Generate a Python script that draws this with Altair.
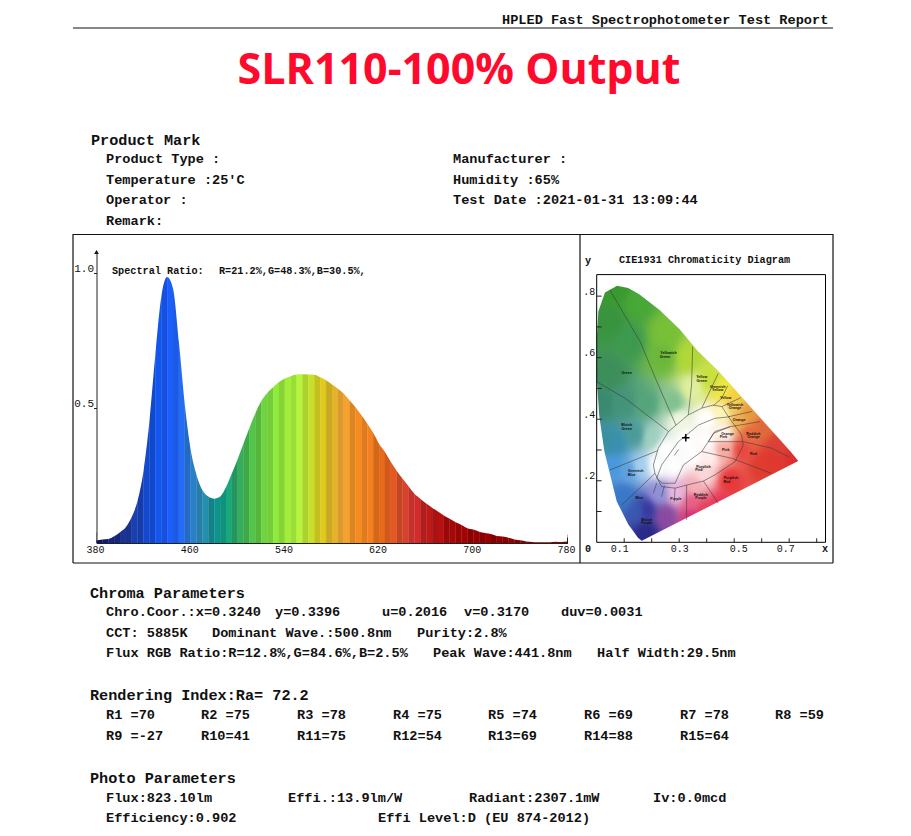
import altair as alt
import numpy as np
import pandas as pd

alt.data_transformers.disable_max_rows()

# ---------- values ----------
wavelengths = list(range(380, 785, 5))
relative_power = [
    .010, .013, .015, .025, .040, .059, .097, .158, .269, .453, .699, .911, .985, .942, .744, .512, .345,
    .251, .195, .172, .164, .172, .207, .258, .312, .370, .428, .482, .526, .556, .577, .596, .609, .618,
    .624, .625, .624, .623, .614, .603, .587, .571, .553, .528, .503, .473, .442, .408, .367, .337, .300,
    .267, .238, .210, .182, .164, .146, .131, .117, .102, .090, .077, .067, .055, .050, .042, .037, .033,
    .026, .024, .019, .013, .010, .006, .004, .003, .003, .003, .005, .004, .006]
spectrum_stops = [380, 400, 410, 420, 430, 440, 450, 460, 470, 480, 490, 500, 510, 520, 530, 540, 550, 560,
                  570, 580, 590, 600, 610, 620, 630, 640, 650, 660, 680, 700, 780]
spectrum_colours = ["#10106a", "#1a2f8c", "#1a3a9e", "#1646c8", "#0f50e0", "#1a5cff", "#1f62f5", "#2a7cd0",
                    "#2a8bb0", "#0f9090", "#10a080", "#30a860", "#48bb48", "#66d040", "#84e03c", "#9cee3a",
                    "#aaf03a", "#c4e830", "#d8c818", "#e0b82a", "#f0a030", "#f89020", "#f08020", "#e87018",
                    "#e05a20", "#d84828", "#d03030", "#c01c1c", "#a80808", "#980000", "#800000"]
spectrum_ticks = [380, 460, 540, 620, 700, 780]

locus_x = [.1640, .1500, .1300, .1150, .0730, .0280, .0090, 0, 0, .0060, .0300, .0743, .1142, .1547,
           .2296, .3016, .3650, .4441, .5125, .5752, .6270, .6658, .6915, .7079, .7330]
locus_y = [.0050, .0150, .0400, .0578, .1327, .2950, .4127, .5384, .6548, .7502, .8120, .8338, .8262, .8059,
           .7543, .6923, .6245, .5547, .4866, .4242, .3725, .3340, .3083, .2920, .2640]

colour_x = [.07, .15, .05, .25, .335, .24, .12, .05, .02, .04, .07, .12, .06, .155, .10, .15, .18, .18, .25, .225,
            .29, .35, .35, .36, .39, .45, .39, .485, .41, .46, .53, .60, .64, .72, .65, .60, .555, .46, .52, .55,
            .495, .50, .46, .46, .41, .35, .28, .18, .10, .30, .40, .33, .25, .22, .28, .35, .40, .20, .14]
colour_y = [.82, .78, .72, .68, .60, .60, .65, .55, .45, .33, .32, .235, .25, .245, .15, .10, .105, .03, .085, .16,
            .16, .08, .13, .18, .105, .12, .22, .20, .28, .30, .30, .25, .27, .27, .31, .37, .355, .355, .40, .42,
            .44, .47, .495, .42, .53, .50, .45, .45, .45, .40, .40, .33, .30, .25, .25, .28, .33, .34, .35]
colour_hex = ["#3a9a30", "#48a838", "#3a9440", "#78c038", "#b0d838", "#6cb83c", "#3e9a50", "#3e8f5a", "#3a8a70",
              "#3a90a0", "#3a90b0", "#5ca0e0", "#4a98e0", "#a8d0f0", "#3a78c8", "#3a5ab0", "#3838a0", "#2a2a88",
              "#8a4aa0", "#9090d8", "#e8b8e0", "#d83078", "#e86088", "#f4b0b8", "#e84058", "#e83858", "#fcd8d8",
              "#e83838", "#fff0f0", "#f8a8a0", "#e84840", "#e03c30", "#e03830", "#dc3030", "#dc4038", "#e06a3a",
              "#e86a40", "#fff8f0", "#f0b050", "#e89a40", "#f0c860", "#f4d040", "#f0e840", "#fdf8c0", "#c8e040",
              "#e0f0a0", "#80c090", "#55a57a", "#45947a", "#f0f8e0", "#ffffff", "#ffffff", "#ffffff", "#ffffff",
              "#ffffff", "#ffffff", "#ffffff", "#a0d0c0", "#4a9a98"]

region_lines = [
    [(.048, .820), (.158, .652), (.224, .511), (.288, .381)],
    [(.349, .636), (.345, .511), (.333, .414)],
    [(.442, .549), (.382, .436)],
    [(.476, .509), (.455, .468), (.424, .444)],
    [(.524, .470), (.455, .441)],
    [(.564, .425), (.479, .408)],
    [(.594, .392), (.487, .376), (.455, .365), (.424, .354), (.406, .327)],
    [(.406, .327), (.533, .327), (.636, .306), (.697, .278)],
    [(.382, .295), (.491, .273), (.636, .224)],
    [(0, .522), (.103, .468), (.261, .360)],
    [(.048, .235), (.222, .298)],
    [(.091, .121), (.212, .224)],
    [(.388, .199), (.442, .127)],
    [(.327, .186), (.327, .073)],
    [(.218, .192), (.206, .159)],
    [(.246, .184), (.236, .148)],
    [(.285, .176), (.282, .132)],
    [(.212, .224), (.206, .251), (.224, .306), (.261, .360), (.333, .414), (.382, .436), (.424, .446), (.455, .441),
     (.479, .408), (.527, .349), (.533, .316), (.503, .262), (.430, .219), (.388, .199), (.327, .186), (.285, .176),
     (.236, .181), (.212, .224)],
    [(.485, .376), (.430, .360), (.406, .327), (.382, .295), (.315, .251), (.285, .192), (.239, .192), (.218, .208),
     (.236, .251), (.297, .327), (.370, .381), (.430, .403), (.485, .408)],
    [(.282, .282), (.298, .302)],
]
region_names = [
    ("Yellowish", .261, .615), ("Green", .248, .603), ("Green", .109, .551), ("Bluish", .109, .381), ("Green", .109, .369),
    ("Greenish", .142, .231), ("Blue", .127, .219), ("Blue", .155, .145), ("Bluish", .182, .073), ("Purple", .182, .062),
    ("Purple", .288, .141), ("Reddish", .379, .154), ("Purple", .379, .143), ("Purplish", .488, .208), ("Red", .473, .197),
    ("Purplish", .388, .246), ("Pink", .372, .234), ("Red", .570, .286), ("Pink", .469, .299), ("Orange", .476, .352),
    ("Pink", .461, .341), ("Reddish", .570, .352), ("Orange", .570, .341), ("Orange", .518, .399), ("Yellowish", .503, .446),
    ("Orange", .503, .436), ("Yellow", .469, .468), ("Greenish", .440, .506), ("Yellow", .440, .494), ("Yellow", .382, .536),
    ("Green", .382, .524),
]
sample_x, sample_y = [.3240], [.3396]

heading_texts = ["Product Mark", "Chroma Parameters", "Rendering Index:Ra= 72.2", "Photo Parameters"]
heading_at = [(91, 140), (90, 593), (90, 695), (90, 778)]
body_texts = [
    "HPLED Fast Spectrophotometer Test Report",
    "Product Type :", "Manufacturer :", "Temperature :25'C", "Humidity :65%", "Operator :",
    "Test Date :2021-01-31 13:09:44", "Remark:",
    "Chro.Coor.:x=0.3240", "y=0.3396", "u=0.2016", "v=0.3170", "duv=0.0031",
    "CCT: 5885K", "Dominant Wave.:500.8nm", "Purity:2.8%",
    "Flux RGB Ratio:R=12.8%,G=84.6%,B=2.5%", "Peak Wave:441.8nm", "Half Width:29.5nm",
    "R1 =70", "R2 =75", "R3 =78", "R4 =75", "R5 =74", "R6 =69", "R7 =78", "R8 =59",
    "R9 =-27", "R10=41", "R11=75", "R12=54", "R13=69", "R14=88", "R15=64",
    "Flux:823.10lm", "Effi.:13.9lm/W", "Radiant:2307.1mW", "Iv:0.0mcd", "Efficiency:0.902", "Effi Level:D (EU 874-2012)",
]
body_at = [
    (502, 20), (106, 159), (453, 159), (106, 180), (453, 180), (106, 200), (453, 200), (106, 221),
    (106, 612), (275, 612), (382, 612), (464, 612), (561, 612),
    (106, 633), (212, 633), (417, 633),
    (106, 653), (433, 653), (597, 653),
    (106, 715), (201, 715), (297, 715), (393, 715), (488, 715), (584, 715), (680, 715), (775, 715),
    (106, 736), (201, 736), (297, 736), (393, 736), (488, 736), (584, 736), (680, 736),
    (106, 798), (288, 798), (469, 798), (653, 798), (106, 818), (378, 818),
]
small_texts = ["Spectral Ratio:", "R=21.2%,G=48.3%,B=30.5%,", "CIE1931 Chromaticity Diagram", "y", "0", "x"]
small_at = [(112, 271), (219, 271), (619, 260), (585, 261), (585, 549), (822, 549)]
title_text = "SLR110-100% Output"

# ---------- page geometry (page pixels, 8px margin removed) ----------
W, H = 895, 820
M = 8
FONT = "Liberation Mono"


def hexrgb(h):
    return np.array([int(h[i:i + 2], 16) for i in (1, 3, 5)], float)


def rgbhex(c):
    return "#%02x%02x%02x" % tuple(int(round(max(0, min(255, v)))) for v in c)


# ---------- spectrum ----------
stop_rgb = np.array([hexrgb(c) for c in spectrum_colours])
band_shade = [1.0, .93, 1.03, .90]
rows = []
for i in range(len(wavelengths) - 1):
    mid = (wavelengths[i] + wavelengths[i + 1]) / 2
    rgb = [np.interp(mid, spectrum_stops, stop_rgb[:, k]) for k in range(3)]
    rows.append(dict(nm=wavelengths[i], nm2=wavelengths[i + 1],
                     top=max(relative_power[i], relative_power[i + 1]) + .025,
                     base=0.0, fill=rgbhex(np.array(rgb) * band_shade[i % 4])))
strips = pd.DataFrame(rows)

sx = alt.Scale(domain=[380, 780], range=[96.5 - M, 567.5 - M], nice=False, zero=False)
sy = alt.Scale(domain=[0, 1.078], range=[543 - M, 252 - M], nice=False, zero=False)

strip_layer = alt.Chart(strips).mark_rect(strokeWidth=0.3).encode(
    x=alt.X("nm:Q", scale=sx, title=None,
            axis=alt.Axis(orient="bottom", offset=543 - M - H, values=spectrum_ticks, ticks=False, grid=False,
                          domainColor="#222", domainWidth=1, labelFont=FONT, labelFontSize=10, labelColor="#111",
                          labelPadding=1, labelOffset=-1.5, labelOverlap=False, format="d", labelFlush=False, zindex=1)),
    x2="nm2:Q",
    y=alt.Y("base:Q", scale=sy, title=None,
            axis=alt.Axis(orient="left", offset=M - 96.5, values=[0.5, 1.0], tickSize=3, tickColor="#222", grid=False,
                          domainColor="#222", domainWidth=1, labelFont=FONT, labelFontSize=11, labelColor="#111",
                          labelPadding=0, labelBaseline="bottom", format=".1f", zindex=1)),
    y2="top:Q",
    color=alt.Color("fill:N", scale=None),
    stroke=alt.Stroke("fill:N", scale=None),
)
# white above the measured curve gives the strips their smooth top edge
above = pd.DataFrame({"nm": wavelengths, "v": relative_power, "ceil": [1.078] * len(wavelengths)})
above_layer = alt.Chart(above).mark_area(color="white", interpolate="monotone").encode(
    x=alt.X("nm:Q", scale=sx, axis=None),
    y=alt.Y("v:Q", scale=sy, stack=None, axis=None), y2="ceil:Q")
arrow = alt.Chart(pd.DataFrame({"nm": [380], "v": [1.078]})).mark_point(
    shape="triangle-up", size=22, filled=True, color="#111", opacity=1
).encode(x=alt.X("nm:Q", scale=sx, axis=None), y=alt.Y("v:Q", scale=sy, axis=None))
end_tick = alt.Chart(pd.DataFrame({"nm": [780], "v": [0.0], "v2": [0.02]})).mark_rule(color="#222").encode(
    x=alt.X("nm:Q", scale=sx, axis=None), y=alt.Y("v:Q", scale=sy, axis=None), y2="v2:Q")

# ---------- chromaticity diagram ----------
cx = alt.Scale(domain=[0, 0.832], range=[596.7 - M, 825.5 - M], nice=False, zero=False)
cy = alt.Scale(domain=[0, 0.87], range=[542.3 - M, 274.6 - M], nice=False, zero=False)
XMAX, YMAX = 0.832, 0.87

poly = np.column_stack([locus_x, locus_y])


def inside(px, py):
    n = len(poly)
    c = False
    j = n - 1
    for i in range(n):
        if (poly[i, 1] > py) != (poly[j, 1] > py):
            if px < (poly[j, 0] - poly[i, 0]) * (py - poly[i, 1]) / (poly[j, 1] - poly[i, 1]) + poly[i, 0]:
                c = not c
        j = i
    return c


ax = np.array(colour_x)
ay = np.array(colour_y)
argb = np.array([hexrgb(c) for c in colour_hex])
step_x, step_y = 2 / 275, 2 / 307.7
cells = []
for gx in np.arange(0, XMAX, step_x):
    for gy in np.arange(0, YMAX, step_y):
        if not any(inside(gx + a * step_x, gy + b * step_y) for a in (-.5, 1.5) for b in (-.5, 1.5)):
            continue
        d = (ax - (gx + step_x / 2)) ** 2 + (ay - (gy + step_y / 2)) ** 2 + 4e-4
        w = d ** -2.0
        cells.append(dict(a=round(gx, 4), a2=round(gx + step_x * 1.3, 4), b=round(gy, 4), b2=round(gy + step_y * 1.3, 4),
                          c=rgbhex((w[:, None] * argb).sum(0) / w.sum())))
cells = pd.DataFrame(cells)
cell_layer = alt.Chart(cells).mark_rect().encode(
    x=alt.X("a:Q", scale=cx, axis=None), x2="a2:Q",
    y=alt.Y("b:Q", scale=cy, axis=None), y2="b2:Q",
    color=alt.Color("c:N", scale=None),
)

# white surround: the plot box, then the locus walked the other way round, trims the cell edges
mask_x = [0, 0, XMAX, XMAX, 0] + [locus_x[0]] + locus_x[::-1] + [0]
mask_y = [0, YMAX, YMAX, 0, 0] + [locus_y[0]] + locus_y[::-1] + [0]
mask = pd.DataFrame({"a": mask_x, "b": mask_y, "i": range(len(mask_x))})
mask_layer = alt.Chart(mask).mark_line(fill="white", strokeWidth=0, interpolate="linear").encode(
    x=alt.X("a:Q", scale=cx, axis=None), y=alt.Y("b:Q", scale=cy, axis=None), order="i:Q")

line_rows = []
for k, pts in enumerate(region_lines):
    for i, (a, b) in enumerate(pts):
        line_rows.append(dict(k=k, i=i, a=a, b=b))
line_layer = alt.Chart(pd.DataFrame(line_rows)).mark_line(color="#3a3a3a", strokeWidth=0.8, opacity=0.7).encode(
    x=alt.X("a:Q", scale=cx, axis=None), y=alt.Y("b:Q", scale=cy, axis=None), detail="k:N", order="i:Q")

names = pd.DataFrame(region_names, columns=["t", "a", "b"])
name_layer = alt.Chart(names).mark_text(font="Liberation Sans", fontSize=3.6, fontWeight="bold", color="#111").encode(
    x=alt.X("a:Q", scale=cx, axis=None), y=alt.Y("b:Q", scale=cy, axis=None), text="t:N")

sample_layer = alt.Chart(pd.DataFrame({"a": sample_x, "b": sample_y})).mark_point(
    shape="M-1,0L1,0M0,-1L0,1", size=55, stroke="#000", strokeWidth=1.5, opacity=1, fill=None
).encode(x=alt.X("a:Q", scale=cx, axis=None), y=alt.Y("b:Q", scale=cy, axis=None))

box_layer = alt.Chart(pd.DataFrame({"a": [0.0], "a2": [XMAX], "b": [0.0], "b2": [YMAX]})).mark_rect(
    fillOpacity=0, stroke="#000", strokeWidth=1
).encode(x=alt.X("a:Q", scale=cx, axis=None), x2="a2:Q", y=alt.Y("b:Q", scale=cy, axis=None), y2="b2:Q")

x_grid = [round(.1 * i, 1) for i in range(1, 9)]
y_grid = [round(.1 * i, 1) for i in range(1, 9)]
x_tick_layer = alt.Chart(pd.DataFrame({"a": x_grid, "b": [0.0] * 8, "b2": [0.013] * 8})).mark_rule(color="#222").encode(
    x=alt.X("a:Q", scale=cx, title=None,
            axis=alt.Axis(orient="bottom", offset=542.3 - M - H, values=[.1, .3, .5, .7], ticks=False, domain=False, grid=False,
                          labelFont=FONT, labelFontSize=10, labelColor="#111", labelPadding=1, format=".1f",
                          labelOffset=alt.expr("datum.value==0.1?-5:datum.value==0.5?4:datum.value==0.7?-4:0"))),
    y=alt.Y("b:Q", scale=cy, axis=None), y2="b2:Q")
y_tick_layer = alt.Chart(pd.DataFrame({"b": y_grid, "a": [0.0] * 8, "a2": [0.018] * 8})).mark_rule(color="#222").encode(
    y=alt.Y("b:Q", scale=cy, title=None,
            axis=alt.Axis(orient="left", offset=M - 596.7, values=[.2, .4, .6, .8], ticks=False, domain=False, grid=False,
                          labelFont=FONT, labelFontSize=10, labelColor="#111", labelPadding=2, labelBaseline="bottom",
                          labelExpr="replace(format(datum.value,'.1f'),'0.','.')")),
    x=alt.X("a:Q", scale=cx, axis=None), x2="a2:Q")


# ---------- page text and frame ----------
def text_layer(texts, at, **kw):
    df = pd.DataFrame({"t": texts, "px": [p[0] - M for p in at], "py": [p[1] - M for p in at]})
    return alt.Chart(df).mark_text(align="left", baseline="middle", color="#111", **kw).encode(
        x=alt.X("px:Q", scale=None, axis=None), y=alt.Y("py:Q", scale=None, axis=None), text="t:N")


headings = text_layer(heading_texts, heading_at, font=FONT, fontSize=15.2, fontWeight="bold")
body = text_layer(body_texts, body_at, font=FONT, fontSize=13.6, fontWeight="bold")
small = text_layer(small_texts, small_at, font=FONT, fontSize=10.2, fontWeight="bold")
title = alt.Chart(pd.DataFrame({"t": [title_text], "px": [459 - M], "py": [71 - M]})).mark_text(
    align="center", baseline="middle", font="Open Sans", fontSize=43, fontWeight="bold", color="#ff0a2c"
).encode(x=alt.X("px:Q", scale=None, axis=None), y=alt.Y("py:Q", scale=None, axis=None), text="t:N")

frame = pd.DataFrame({
    "x1": [73, 73, 73, 73, 833, 580],
    "x2": [833, 833, 833, 73, 833, 580],
    "y1": [28, 234.5, 563, 234, 234, 234],
    "y2": [28, 234.5, 563, 563, 563, 563],
})
for col in frame:
    frame[col] = frame[col] - M
frame_layer = alt.Chart(frame).mark_rule(color="#111", strokeWidth=1.2).encode(
    x=alt.X("x1:Q", scale=None, axis=None), x2="x2:Q",
    y=alt.Y("y1:Q", scale=None, axis=None), y2="y2:Q")

chart = alt.layer(
    frame_layer, cell_layer, mask_layer, line_layer, name_layer, sample_layer, box_layer, x_tick_layer, y_tick_layer,
    strip_layer, above_layer, arrow, end_tick, title, headings, body, small,
).resolve_scale(x="independent", y="independent", color="independent", stroke="independent").resolve_axis(
    x="independent", y="independent"
).properties(width=W, height=H, padding=0, autosize=alt.AutoSizeParams(type="none", contains="content")).configure_view(stroke=None)

chart.save("out.html", embed_options={"renderer": "svg", "actions": False})
